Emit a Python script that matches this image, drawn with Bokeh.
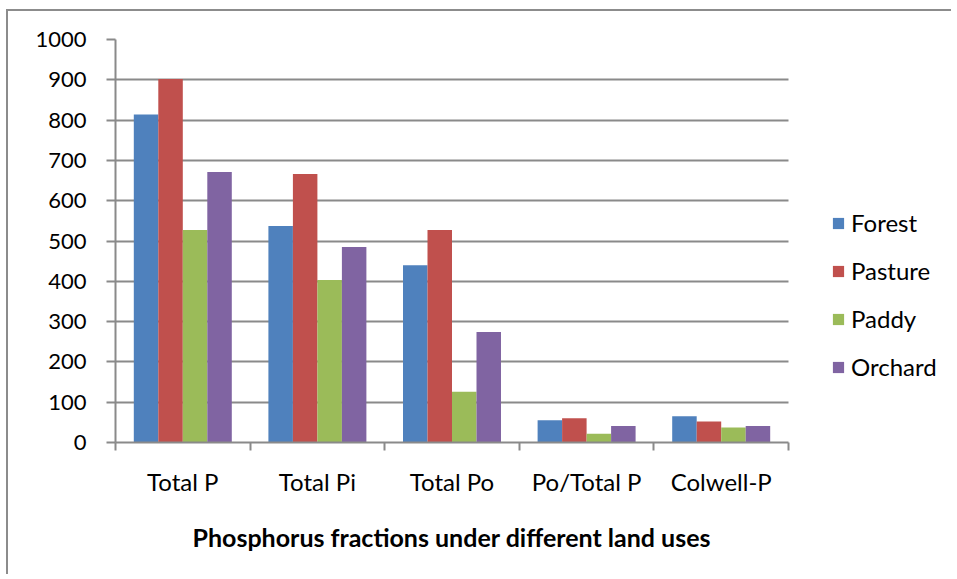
from bokeh.plotting import figure
from bokeh.models import (ColumnDataSource, Range1d, FixedTicker, Legend, LegendItem, Title)
from bokeh.transform import dodge
from bokeh.embed import file_html
from bokeh.resources import INLINE

categories = ["Total P", "Total Pi", "Total Po", "Po/Total P", "Colwell-P"]
series_names = ["Forest", "Pasture", "Paddy", "Orchard"]
forest = [814, 537, 440, 55, 65]
pasture = [902, 666, 527, 60, 52]
paddy = [527, 403, 126, 22, 37]
orchard = [671, 485, 274, 41, 41]
y_ticks = [0, 100, 200, 300, 400, 500, 600, 700, 800, 900, 1000]
x_title = "Phosphorus fractions under different land uses"

colors = ["#4F81BD", "#C0504D", "#9BBB59", "#8064A2"]
FONT = "Lato"
GRID = "#8a8a8a"

# layout (pixels)
FIG_W, FIG_H = 945, 565
LEFT, TOP, BOTTOM = 107, 28, 134
PLOT_W = 673                     # width of the bar area
FRAME_W = FIG_W - LEFT
n = len(categories)
x_end = n * FRAME_W / PLOT_W

centers = [i + 0.5 for i in range(n)]
src = ColumnDataSource(dict(x=centers, Forest=forest, Pasture=pasture,
                            Paddy=paddy, Orchard=orchard))

p = figure(width=FIG_W, height=FIG_H, output_backend="svg", toolbar_location=None,
           x_range=Range1d(0, x_end), y_range=Range1d(0, 1000),
           min_border_left=LEFT, min_border_right=0, min_border_top=TOP,
           min_border_bottom=BOTTOM,
           styles={"border-left": "2px solid #8c8c8c", "border-top": "2px solid #8c8c8c",
                   "margin-left": "6px", "margin-top": "9px"})
p.outline_line_color = None
p.background_fill_color = "white"
p.border_fill_color = "white"

w = 0.182
offsets = [-1.5 * w, -0.5 * w, 0.5 * w, 1.5 * w]
items = []
for name, off, c in zip(series_names, offsets, colors):
    r = p.vbar(x=dodge("x", off, range=p.x_range), top=name, width=w, bottom=0,
               source=src, fill_color=c, line_color=None)
    items.append(LegendItem(label=name, renderers=[r]))

# axes
p.xgrid.grid_line_color = None
p.ygrid.grid_line_color = GRID
p.ygrid.grid_line_width = 2
p.ygrid.cross_bounds = (0, n)
p.yaxis.ticker = FixedTicker(ticks=y_ticks)
p.yaxis.axis_line_color = GRID
p.yaxis.axis_line_width = 2
p.yaxis.major_tick_line_color = GRID
p.yaxis.major_tick_line_width = 2
p.yaxis.major_tick_out = 9
p.yaxis.major_tick_in = 0
p.yaxis.minor_tick_line_color = None
p.yaxis.major_label_text_font = FONT
p.yaxis.major_label_text_font_size = "22px"
p.yaxis.major_label_text_color = "black"
p.yaxis.major_label_standoff = 20

p.xaxis.bounds = (0, n)
p.xaxis.ticker = FixedTicker(ticks=centers, minor_ticks=list(range(n + 1)))
p.xaxis.major_label_overrides = {c: lab for c, lab in zip(centers, categories)}
p.xaxis.axis_line_color = GRID
p.xaxis.axis_line_width = 2
p.xaxis.major_tick_line_color = None
p.xaxis.major_tick_out = 0
p.xaxis.major_tick_in = 0
p.xaxis.minor_tick_line_color = GRID
p.xaxis.minor_tick_line_width = 2
p.xaxis.minor_tick_out = 8
p.xaxis.minor_tick_in = 0
p.xaxis.major_label_text_font = FONT
p.xaxis.major_label_text_font_size = "24px"
p.xaxis.major_label_text_color = "black"
p.xaxis.major_label_standoff = 16

title = Title(text=x_title, align="left", offset=77, standoff=42,
              text_font=FONT, text_font_style="bold", text_font_size="25px",
              text_color="black")
p.add_layout(title, "below")

legend = Legend(items=items, location=(716, 61), orientation="vertical",
                glyph_width=14, glyph_height=14, label_standoff=6,
                label_height=24, spacing=19, padding=0, margin=0,
                border_line_color=None, background_fill_alpha=0,
                label_text_font=FONT, label_text_font_size="24px",
                label_text_color="black")
p.add_layout(legend)

open("out.html", "w").write(file_html(p, INLINE))
